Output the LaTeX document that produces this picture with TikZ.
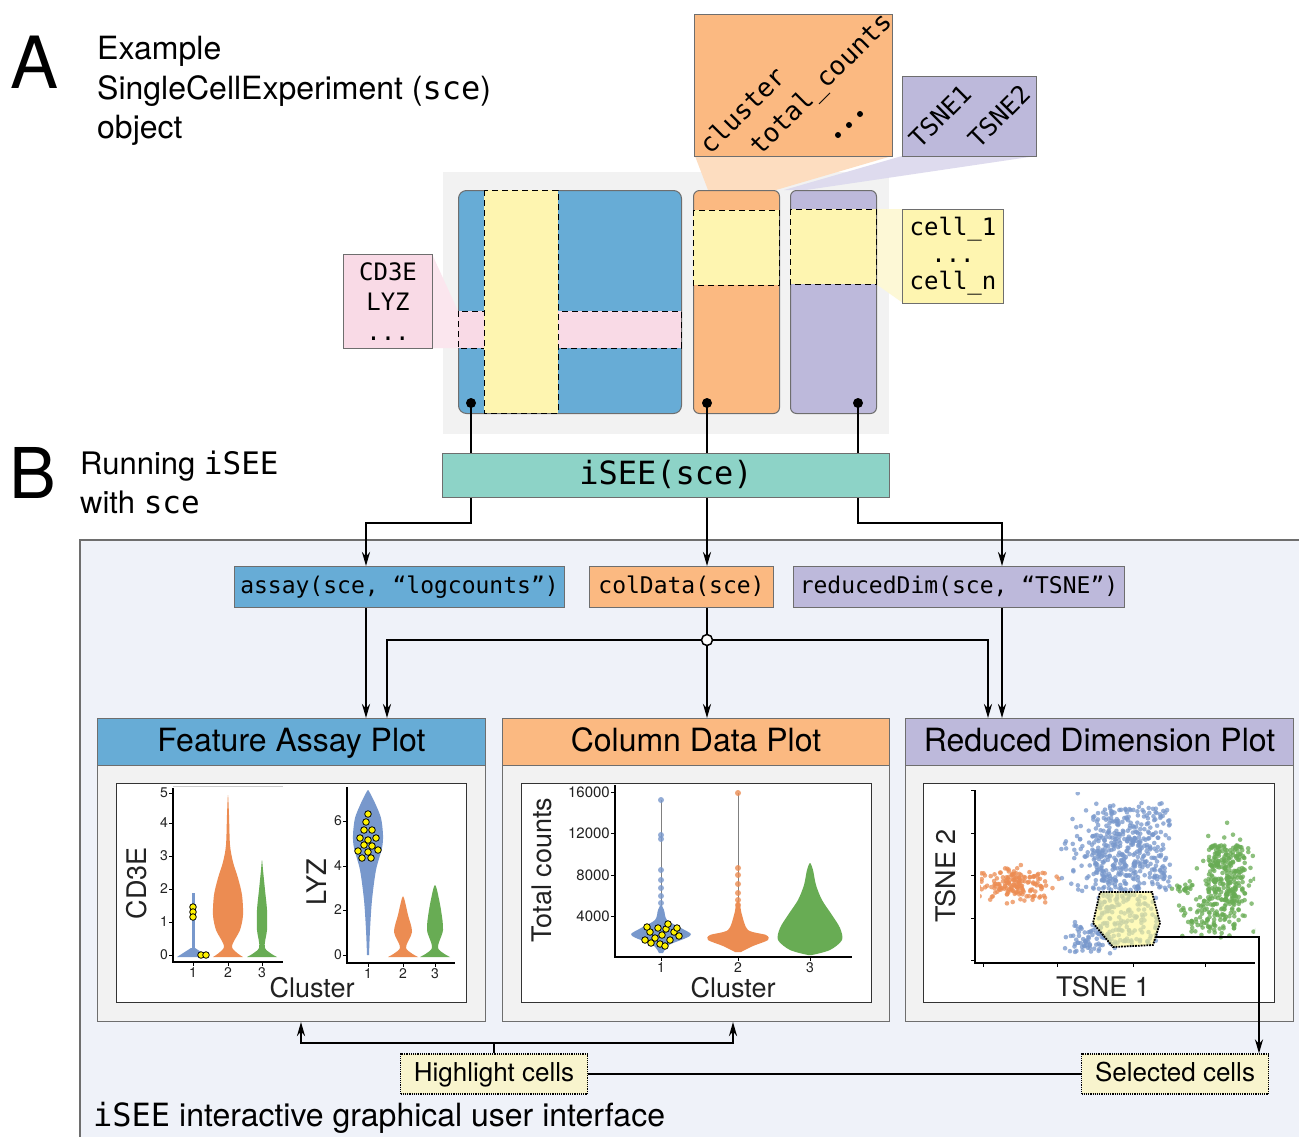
\documentclass[tikz,border=0pt]{standalone}
\usepackage{fontspec}
\setmainfont{TeX Gyre Heros}
\setsansfont{TeX Gyre Heros}
\setmonofont{DejaVu Sans Mono}
\usetikzlibrary{arrows.meta,calc}
\definecolor{cblue}{RGB}{103,172,214}
\definecolor{corange}{RGB}{251,185,129}
\definecolor{cpurple}{RGB}{189,185,219}
\definecolor{cteal}{RGB}{141,211,199}
\definecolor{cyellow}{RGB}{254,245,176}
\definecolor{cpink}{RGB}{249,218,230}
\definecolor{bggray}{RGB}{242,242,242}
\definecolor{guibg}{RGB}{239,242,249}
\definecolor{hlfill}{RGB}{248,244,205}
\definecolor{projorange}{RGB}{253,221,192}
\definecolor{projpurple}{RGB}{222,219,238}
\definecolor{projyellow}{RGB}{253,248,214}
\definecolor{projpink}{RGB}{251,230,238}
\definecolor{vblue}{RGB}{120,152,204}
\definecolor{vorange}{RGB}{236,140,82}
\definecolor{vgreen}{RGB}{104,172,84}
\definecolor{edgegray}{RGB}{110,110,110}
\definecolor{plottext}{RGB}{34,34,34}
\newcommand\fsz[2]{\fontsize{#1}{#2}\selectfont}
\newcommand\scat[6]{%
  \foreach \k in {1,...,#1}{%
    \pgfmathsetmacro\px{#2+#4*(rand+rand+rand)/1.7}%
    \pgfmathsetmacro\py{#3+#5*(rand+rand+rand)/1.7}%
    \fill[#6,fill opacity=.75] (\px,\py) circle (2.3pt);
  }}
\newcommand\uscat[6]{%
  \foreach \k in {1,...,#1}{%
    \pgfmathsetmacro\px{#2+(#3-#2)*rnd}%
    \pgfmathsetmacro\py{#4+(#5-#4)*rnd}%
    \fill[#6,fill opacity=.75] (\px,\py) circle (2.3pt);
  }}
\begin{document}
\begin{tikzpicture}[x=1pt,y=-1pt,
  conn/.style={line width=2.2pt},
  arr/.style={line width=2.2pt,-{Stealth[length=14pt,width=8pt]}},
  box/.style={draw=edgegray,line width=1pt,inner sep=0pt,anchor=north west},
  codebox/.style={box,font=\ttfamily\fsz{23}{28},minimum height=41pt,text height=17pt,text depth=5pt},
  header/.style={box,minimum height=47pt,font=\fsz{32}{36},text height=23pt,text depth=5pt},
  strip/.style={draw=black,dash pattern=on 6pt off 4pt,line width=1pt},
  dotbox/.style={draw=black,densely dotted,line width=1.2pt,fill=hlfill,inner sep=0pt,minimum height=40pt,minimum width=187pt,font=\fsz{26}{30},text height=19pt,text depth=5pt},
  plotbox/.style={draw=black!80,fill=white,line width=1pt,anchor=north west,inner sep=0pt,minimum width=350pt,minimum height=219pt},
  axis/.style={draw=black,line width=1.4pt},
  tick/.style={font=\fsz{14}{16},text=plottext,inner sep=1pt},
  atitle/.style={font=\fsz{27}{30},text=plottext,inner sep=0pt},
  seldot/.style={fill=yellow,draw=black,line width=.8pt},
  vio/.style={line width=.5pt}
]
\useasboundingbox (0,0) rectangle (1299,1136);
\fill[white] (0,0) rectangle (1299,1136);
\pgfmathsetseed{7}

% ---------------- Section A ----------------
\node[anchor=base west,font=\fsz{72}{72},inner sep=0pt] (lblA) at (10,88) {A};
\node[anchor=base west,font=\fsz{32}{36},inner sep=0pt] (tA1) at (97,59) {Example};
\node[anchor=base west,font=\fsz{32}{36},inner sep=0pt] (tA2) at (97,99) {SingleCellExperiment (\texttt{sce})};
\node[anchor=base west,font=\fsz{32}{36},inner sep=0pt] (tA3) at (97,138) {object};

\fill[bggray] (443,172) rectangle (889,434);
% projections
\fill[projorange] (695,156) -- (892,156) -- (776,190) -- (708,190) -- cycle;
\fill[projpurple] (902,156) -- (1036,156) -- (806,190) -- (784,190) -- cycle;
\fill[projyellow] (876,209) -- (903,209) -- (903,303) -- (876,284) -- cycle;
\fill[projpink] (432,254) -- (458,311) -- (458,348) -- (432,348) -- cycle;

% matrices
\node[box,fill=cblue,rounded corners=8pt,minimum width=223pt,minimum height=223pt] (assaymat) at (458,190) {};
\draw[strip,fill=cpink] (458,311) rectangle (681,348);
\draw[strip,fill=cyellow] (484,190) rectangle (558,413);
\node[box,fill=corange,rounded corners=6pt,minimum width=86pt,minimum height=223pt] (colmat) at (693,190) {};
\draw[strip,fill=cyellow] (693,210) rectangle (779,285);
\node[box,fill=cpurple,rounded corners=6pt,minimum width=86pt,minimum height=223pt] (redmat) at (790,190) {};
\draw[strip,fill=cyellow] (790,209) rectangle (876,284);

% annotation boxes
\node[box,fill=corange,minimum width=198pt,minimum height=142pt] (colbox) at (694,14) {};
\node[rotate=45,font=\ttfamily\fsz{26}{26},inner sep=0pt] (tcl) at (742,110) {cluster};
\node[rotate=45,font=\ttfamily\fsz{26}{26},inner sep=0pt] (ttc) at (822,85) {total\_counts};
\fill (838,135) circle (3pt) (849,125) circle (3pt) (860,114) circle (3pt);
\node[box,fill=cpurple,minimum width=134pt,minimum height=80pt] (tsnebox) at (902,76) {};
\node[rotate=45,font=\ttfamily\fsz{25}{25},inner sep=0pt] (tt1) at (940,116) {TSNE1};
\node[rotate=45,font=\ttfamily\fsz{25}{25},inner sep=0pt] (tt2) at (999,116) {TSNE2};
\node[box,fill=cpink,minimum width=89pt,minimum height=94pt,align=center,font=\ttfamily\fsz{24}{30}] (genebox) at (343,254) {CD3E\\LYZ\\...};
\node[box,fill=cyellow,minimum width=101pt,minimum height=94pt,align=center,font=\ttfamily\fsz{24}{27}] (cellbox) at (902,209) {cell\_1\\...\\cell\_n};

% ---------------- Section B ----------------
\node[anchor=base west,font=\fsz{70}{70},inner sep=0pt] (lblB) at (9,498) {B};
\node[anchor=base west,font=\fsz{31}{36},inner sep=0pt] (tB1) at (80,474) {Running \texttt{iSEE}};
\node[anchor=base west,font=\fsz{31}{36},inner sep=0pt] (tB2) at (80,513) {with \texttt{sce}};

\node[box,fill=cteal,minimum width=447pt,minimum height=44pt,font=\ttfamily\fsz{32}{36},text height=24pt,text depth=7pt] (isee) at (442,453) {iSEE(sce)};

\coordinate (dA) at (471,403);
\coordinate (dB) at (707,403);
\coordinate (dC) at (858,403);
\draw[conn] (dA) -- (dA |- isee.north);
\draw[conn] (dB) -- (dB |- isee.north);
\draw[conn] (dC) -- (dC |- isee.north);
\fill (dA) circle (5pt) (dB) circle (5pt) (dC) circle (5pt);

% GUI panel
\draw[draw=edgegray,fill=guibg,line width=1.5pt] (80,540) rectangle (1330,1170);

\node[codebox,fill=cblue,minimum width=330pt] (assay) at (234,566) {assay(sce, “logcounts”)};
\node[codebox,fill=corange,minimum width=184pt] (coldata) at (589,566) {colData(sce)};
\node[codebox,fill=cpurple,minimum width=331pt] (redim) at (793,566) {reducedDim(sce, “TSNE”)};

\coordinate (xA) at (366,0);
\coordinate (xA2) at (387,0);
\coordinate (xR) at (1002,0);
\coordinate (xR2) at (988,0);
\coordinate (jn) at (707,640);

\draw[arr] (dA |- isee.south) -- ++(0,25) -| (assay.north -| xA);
\draw[arr] (dB |- isee.south) -- (coldata.north -| dB);
\draw[arr] (dC |- isee.south) -- ++(0,25) -| (redim.north -| xR);

% panels
\node[box,fill=bggray,minimum width=388pt,minimum height=303pt] (fapbody) at (97,718) {};
\node[header,fill=cblue,minimum width=388pt] (fap) at (97,718) {Feature Assay Plot};
\node[plotbox] (fapplot) at (116,783) {};
\node[box,fill=bggray,minimum width=387pt,minimum height=303pt] (cdpbody) at (502,718) {};
\node[header,fill=corange,minimum width=387pt] (cdp) at (502,718) {Column Data Plot};
\node[plotbox] (cdpplot) at (521,783) {};
\node[box,fill=bggray,minimum width=388pt,minimum height=303pt] (rdpbody) at (905,718) {};
\node[header,fill=cpurple,minimum width=388pt] (rdp) at (905,718) {Reduced Dimension Plot};
\node[plotbox,minimum width=351pt] (rdpplot) at (923,783) {};

\draw[arr] (assay.south -| xA) -- (fap.north -| xA);
\draw[conn] (coldata.south -| dB) -- (jn);
\draw[arr] (jn) -- (cdp.north -| dB);
\draw[arr] (jn) -| (fap.north -| xA2);
\draw[arr] (jn) -| (rdp.north -| xR2);
\draw[arr] (redim.south -| xR) -- (rdp.north -| xR);
\node[circle,draw=black,fill=white,line width=1.5pt,minimum size=11pt,inner sep=0pt] (jnc) at (jn) {};

% ---------- Feature assay plot content ----------
\draw[gray!40,line width=1pt] (173,786) -- (283,786);
\draw[axis] (173,788) -- (173,962) -- (283,962);
\foreach \v/\yy in {0/955,1/922,2/889,3/856,4/823,5/793}{
  \draw[line width=1pt] (173,\yy) -- (169,\yy);
  \node[tick,anchor=east] at (169,\yy) {\v};}
\foreach \v/\xx in {1/193,2/228,3/262}{
  \draw[line width=1pt] (\xx,962) -- (\xx,966);
  \node[tick,anchor=north] at (\xx,966) {\v};}
\fill[vblue,vio] (177,957) -- (191,948) -- (195,948) -- (209,957) -- cycle;
\draw[vblue,line width=3pt] (193,955) -- (193,893);
\fill[vorange,vio] plot[smooth] coordinates {(213,957) (224,947) (216,930) (213,915) (214,895) (218,878) (223,862) (226,845) (227,815) (228,795) (229,815) (230,845) (233,862) (238,878) (242,895) (243,915) (240,930) (232,947) (243,957)} -- cycle;
\fill[vgreen,vio] plot[smooth] coordinates {(247,957) (259,948) (257,930) (257,910) (259,890) (261,870) (262,860) (263,870) (265,890) (267,910) (267,930) (265,948) (277,957)} -- cycle;
\foreach \p in {(193,907),(193,912),(193,917),(201,955),(206,955)} \fill[seldot] \p circle (3.3pt);
\node[atitle,rotate=90] (cd3e) at (137,883) {CD3E};

\draw[axis] (347,787) -- (347,963) -- (455,963);
\foreach \v/\yy in {0/955,2/910,4/866,6/821}{
  \draw[line width=1pt] (347,\yy) -- (343,\yy);
  \node[tick,anchor=east] at (343,\yy) {\v};}
\foreach \v/\xx in {1/368,2/403,3/435}{
  \draw[line width=1pt] (\xx,963) -- (\xx,967);
  \node[tick,anchor=north] at (\xx,967) {\v};}
\fill[vblue,vio] plot[smooth] coordinates {(367,955) (366,930) (364,900) (360,870) (354,848) (353,835) (355,818) (361,803) (366,793) (368,790) (370,793) (375,803) (381,818) (383,835) (382,848) (376,870) (372,900) (370,930) (369,955)} -- cycle;
\fill[vorange,vio] plot[smooth] coordinates {(388,957) (400,948) (394,932) (398,915) (402,898) (404,898) (408,915) (412,932) (406,948) (418,957)} -- cycle;
\fill[vgreen,vio] plot[smooth] coordinates {(420,957) (432,948) (427,930) (429,910) (433,890) (435,885) (437,890) (441,910) (443,930) (438,948) (450,957)} -- cycle;
\foreach \p in {(368,814),(366,822),(364,830),(372,830),(360,838),(368,840),(376,838),(364,845),(372,846),(358,851),(368,852),(378,850),(362,858),(371,858)} \fill[seldot] \p circle (3.3pt);
\node[atitle,rotate=90] (lyz) at (317,882) {LYZ};
\node[atitle] (clu1) at (312,988) {Cluster};

% ---------- Column data plot content ----------
\draw[axis] (615,785) -- (615,957) -- (852,957);
\foreach \v/\yy in {16000/792,12000/833,8000/875,4000/916}{
  \draw[line width=1pt] (615,\yy) -- (611,\yy);
  \node[tick,anchor=east,font=\fsz{15}{17}] at (611,\yy) {\v};}
\foreach \v/\xx in {1/661,2/738,3/810}{
  \draw[line width=1pt] (\xx,957) -- (\xx,961);
  \node[tick,anchor=north] at (\xx,961) {\v};}
\draw[gray,line width=1pt] (661,951) -- (661,800);
\draw[gray,line width=1pt] (738,951) -- (738,793);
\foreach \yy in {800,835,839,870,880,888,896,903} \fill[vblue,fill opacity=.8] (661,\yy) circle (3pt);
\foreach \yy in {793,868,875,884,893,900,905} \fill[vorange,fill opacity=.8] (738,\yy) circle (3pt);
\fill[vblue,vio] plot[smooth] coordinates {(659,953) (653,945) (636,938) (631,934) (641,928) (655,920) (658,910) (661,905) (664,910) (667,920) (681,928) (691,934) (686,938) (669,945) (663,953)} -- cycle;
\fill[vorange,vio] plot[smooth] coordinates {(735,952) (723,946) (708,940) (710,935) (728,930) (734,915) (736,905) (738,900) (740,905) (742,915) (748,930) (766,935) (768,940) (753,946) (741,952)} -- cycle;
\fill[vgreen,vio] plot[smooth] coordinates {(808,955) (790,950) (778,940) (780,928) (788,915) (798,900) (804,885) (807,870) (810,863) (813,870) (816,885) (822,900) (832,915) (840,928) (842,940) (830,950) (812,955)} -- cycle;
\foreach \p in {(645,940),(650,932),(655,938),(658,928),(662,935),(666,929),(670,940),(674,932),(679,936),(660,944),(651,943),(668,924),(647,927),(677,928),(665,946)} \fill[seldot] \p circle (3.3pt);
\node[atitle,rotate=90] (tcounts) at (542,870) {Total counts};
\node[atitle] (clu2) at (733,988) {Cluster};

% ---------- Reduced dimension plot content ----------
\draw[axis] (975,790) -- (975,963) -- (1255,963);
\foreach \yy in {790,833,875,918,960} \draw[line width=1pt] (975,\yy) -- (971,\yy);
\foreach \xx in {983,1057,1133,1205} \draw[line width=1pt] (\xx,963) -- (\xx,967);
\begin{scope}
\clip (980,792) rectangle (1255,958);
\scat{160}{1017}{883}{30}{14}{vorange}
\uscat{330}{1092}{1170}{803}{890}{vblue}
\scat{150}{1110}{852}{40}{38}{vblue}
\scat{70}{1090}{940}{22}{12}{vblue}
\uscat{150}{1098}{1158}{893}{945}{vblue}
\uscat{200}{1208}{1245}{845}{905}{vgreen}
\scat{80}{1226}{872}{24}{36}{vgreen}
\scat{100}{1213}{918}{28}{14}{vgreen}
\scat{18}{1183}{888}{10}{6}{vgreen}
\end{scope}
\draw[black,densely dotted,line width=1.8pt,fill=yellow!45,fill opacity=.6] (1100,892) -- (1152,892) -- (1160,923) -- (1153,945) -- (1113,947) -- (1093,923) -- cycle;
\coordinate (selpt) at (1156,937);
\node[atitle,rotate=90] (tsne2) at (946,876) {TSNE 2};
\node[atitle] (tsne1) at (1103,987) {TSNE 1};

% ---------- bottom ----------
\node[dotbox] (hl) at (494,1074) {Highlight cells};
\node[dotbox] (sel) at (1175,1074) {Selected cells};
\coordinate (hj) at (494,1043);
\coordinate (xF) at (301,0);
\coordinate (xC) at (733,0);
\coordinate (xS) at (1259,0);
\draw[conn] (hl.north) -- (hj);
\draw[arr] (hj) -| (fapbody.south -| xF);
\draw[arr] (hj) -| (cdpbody.south -| xC);
\draw[conn] (hl.east) -- (sel.west);
\draw[arr] (selpt) -| (sel.north -| xS);
\node[anchor=base west,font=\fsz{32}{36},inner sep=0pt] (guilabel) at (93,1126) {\texttt{iSEE} interactive graphical user interface};
\end{tikzpicture}
\end{document}
